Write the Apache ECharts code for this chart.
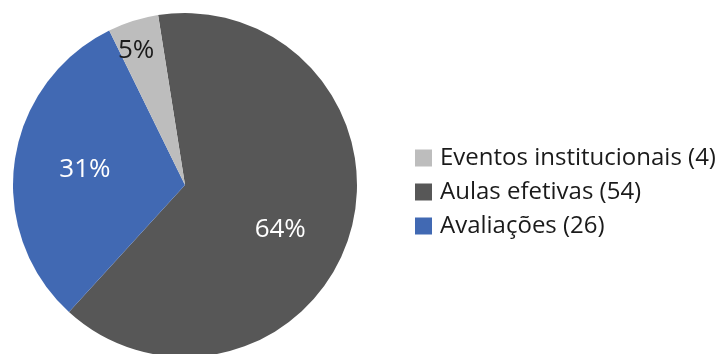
<!DOCTYPE html>
<html>
<head>
<meta charset="utf-8">
<script src="https://cdn.jsdelivr.net/npm/echarts@6/dist/echarts.min.js"></script>
<style>
  html, body { margin: 0; padding: 0; background: #ffffff; }
  #chart { width: 728px; height: 354px; }
</style>
</head>
<body>
<div id="chart"></div>
<script>
// Distribution of school days by activity type
const categories = ['Aulas efetivas', 'Avaliações', 'Eventos institucionais'];
const values = [54, 26, 4];
const percentLabels = ['64%', '31%', '5%'];
const legendOrder = ['Eventos institucionais', 'Aulas efetivas', 'Avaliações'];
const colors = ['#575757', '#4169b3', '#bdbdbd'];
const labelColors = ['#ffffff', '#ffffff', '#1a1a1a'];
// nudges applied to the inside labels (dx, dy)
const labelNudge = [[10, 19], [-12, -3], [-22, -50]];

const chart = echarts.init(document.getElementById('chart'), null, { renderer: 'canvas' });

const data = categories.map((name, i) => ({
  name: name,
  value: values[i],
  itemStyle: { color: colors[i] },
  label: { color: labelColors[i] }
}));

chart.setOption({
  animation: false,
  backgroundColor: '#ffffff',
  legend: {
    orient: 'vertical',
    left: 415,
    top: 146,
    padding: 0,
    itemWidth: 17,
    itemHeight: 17,
    itemGap: 10,
    icon: 'rect',
    data: legendOrder,
    formatter: function (name) {
      const i = categories.indexOf(name);
      return name + ' (' + values[i] + ')';
    },
    textStyle: {
      fontFamily: '"Open Sans", sans-serif',
      fontSize: 24,
      lineHeight: 23,
      color: '#1a1a1a',
      padding: [0, 0, 0, 3]
    }
  },
  series: [{
    type: 'pie',
    center: [185, 185],
    radius: 172,
    startAngle: 99,
    clockwise: true,
    data: data,
    itemStyle: { borderWidth: 0 },
    label: {
      show: true,
      position: 'inside',
      fontFamily: '"Open Sans", sans-serif',
      fontSize: 26,
      formatter: function (p) { return percentLabels[p.dataIndex]; }
    },
    labelLayout: function (p) {
      const n = labelNudge[p.dataIndex];
      return { dx: n[0], dy: n[1] };
    },
    labelLine: { show: false },
    emphasis: { disabled: true }
  }]
});
</script>
</body>
</html>
